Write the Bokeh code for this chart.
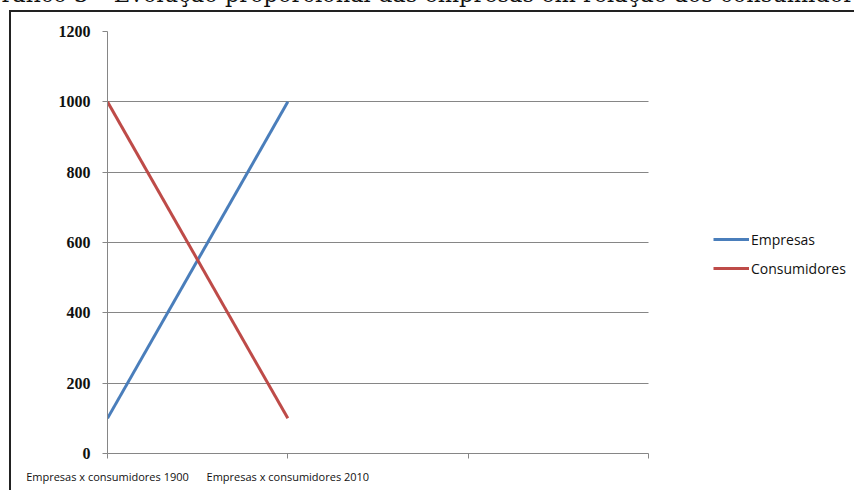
from bokeh.plotting import figure
from bokeh.models import FixedTicker, Legend, LegendItem, Range1d, ColumnDataSource
from bokeh.embed import file_html
from bokeh.resources import INLINE

# ---- data ----
categories = ["Empresas x consumidores 1900", "Empresas x consumidores 2010"]
empresas = [100, 1000]
consumidores = [1000, 100]
y_ticks = [0, 200, 400, 600, 800, 1000, 1200]
x_slots = [0, 1, 2, 3]            # category slots on the x axis (two are empty)
title_text = "Gráfico 3 – Evolução proporcional das empresas em relação aos consumidores"
series_names = ["Empresas", "Consumidores"]

SHIFT = 52                        # canvas shifted up: title's top half is cut, as in the reference
W, H = 854, 490 + SHIFT
FL, FT, FB = 107, 31 + SHIFT, 453 + SHIFT
PLOT_RIGHT = 648                  # right end of the plotting area (page px)
x_end = x_slots[-1] * (W - FL) / (PLOT_RIGHT - FL)

xs = list(range(len(categories)))
src = ColumnDataSource(dict(x=xs, emp=empresas, con=consumidores))

border_css = {
    "margin-top": f"-{SHIFT}px",
    "background-color": "white",
    "background-image": "linear-gradient(#222,#222), linear-gradient(#222,#222)",
    "background-size": "100% 2px, 2px 100%",
    "background-position": f"9px {10 + SHIFT}px, 9px {10 + SHIFT}px",
    "background-repeat": "no-repeat",
}

p = figure(width=W, height=H, output_backend="svg", toolbar_location=None,
           x_range=Range1d(x_slots[0], x_end), y_range=Range1d(y_ticks[0], y_ticks[-1]),
           min_border_left=FL, min_border_right=0,
           min_border_top=FT, min_border_bottom=H - FB,
           styles=border_css)
p.background_fill_color = "white"
p.border_fill_color = None
p.outline_line_color = None

r1 = p.line("x", "emp", source=src, line_color="#4A7EBB", line_width=3)
r2 = p.line("x", "con", source=src, line_color="#BE4B48", line_width=3)

# title (upper half falls outside the page, as in the reference)
p.title.text = title_text
p.title.align = "left"
p.title.offset = -17 - FL
p.title.standoff = 50
p.title.vertical_align = "bottom"
p.title.text_font = "DejaVu Serif"
p.title.text_font_size = "22.5px"
p.title.text_font_style = "normal"
p.title.text_color = "#111111"

# axes
grey = "#868686"
p.yaxis.ticker = FixedTicker(ticks=y_ticks)
p.yaxis.bounds = (y_ticks[0], y_ticks[-1])
p.yaxis.axis_line_color = grey
p.yaxis.major_tick_line_color = grey
p.yaxis.major_tick_out = 5
p.yaxis.major_tick_in = 0
p.yaxis.minor_tick_line_color = None
p.yaxis.major_label_text_font = "Liberation Serif"
p.yaxis.major_label_text_font_style = "bold"
p.yaxis.major_label_text_font_size = "16px"
p.yaxis.major_label_text_color = "#111111"
p.yaxis.major_label_standoff = 12

p.xaxis.ticker = FixedTicker(ticks=x_slots)
p.xaxis.bounds = (x_slots[0], x_slots[-1])
overrides = {i: "" for i in x_slots}
overrides.update({i: c for i, c in enumerate(categories)})
p.xaxis.major_label_overrides = overrides
p.xaxis.axis_line_color = grey
p.xaxis.major_tick_line_color = grey
p.xaxis.major_tick_out = 5
p.xaxis.major_tick_in = 0
p.xaxis.minor_tick_line_color = None
p.xaxis.major_label_text_font = "Open Sans"
p.xaxis.major_label_text_font_size = "11px"
p.xaxis.major_label_text_color = "#111111"
p.xaxis.major_label_standoff = 10

p.xgrid.grid_line_color = None
yg = p.ygrid[0]
yg.ticker = FixedTicker(ticks=y_ticks)
yg.bounds = (y_ticks[0], y_ticks[-1])
if "cross_bounds" in yg.properties():
    yg.cross_bounds = (x_slots[0], x_slots[-1])
    yg.grid_line_color = grey
    yg.grid_line_width = 1
else:
    yg.grid_line_color = None
    p.segment(x0=[x_slots[0]] * len(y_ticks), x1=[x_slots[-1]] * len(y_ticks),
              y0=y_ticks, y1=y_ticks, line_color=grey, line_width=1, level="underlay")

# legend
legend = Legend(items=[LegendItem(label=series_names[0], renderers=[r1]),
                       LegendItem(label=series_names[1], renderers=[r2])],
                location=(606, 175), padding=0, margin=0, spacing=9,
                glyph_width=36, glyph_height=20, label_standoff=2,
                border_line_color=None, background_fill_alpha=0,
                label_text_font="Open Sans", label_text_font_size="14px",
                label_text_color="#111111")
p.add_layout(legend)

open("out.html", "w").write(file_html(p, INLINE))
